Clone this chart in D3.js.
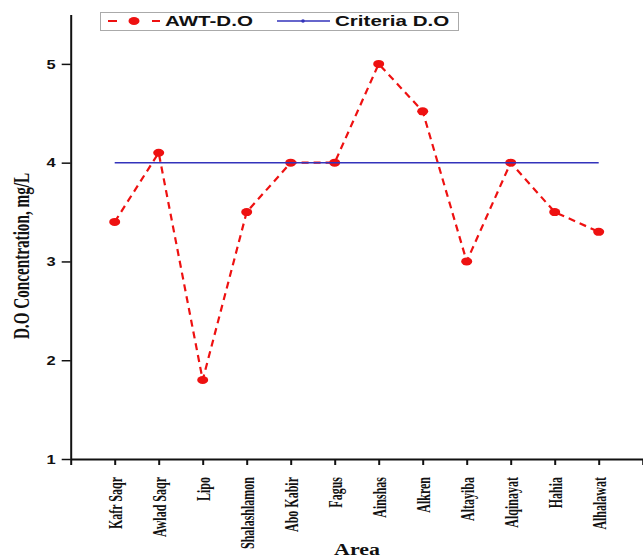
<!DOCTYPE html>
<html><head><meta charset="utf-8">
<script src="https://cdn.jsdelivr.net/npm/d3@7/dist/d3.min.js"></script>
<style>
html,body{margin:0;padding:0;background:#fff;}
svg{display:block;}
</style>
</head><body>
<svg id="c" width="643" height="558"></svg>
<script>
const categories = ["Kafr Saqr","Awlad Saqr","Lipo","Shalashlamon","Abo Kabir","Fagus","Ainshas","Alkren","Altayiba","Alqinayat","Hahia","Alhalawat"];
const awtDO = [3.4, 4.1, 1.8, 3.5, 4.0, 4.0, 5.0, 4.52, 3.0, 4.0, 3.5, 3.3];
const criteriaDO = [4,4,4,4,4,4,4,4,4,4,4,4];
const yTicks = [1,2,3,4,5];
const seriesNames = ["AWT-D.O","Criteria D.O"];
const xLabel = "Area";
const yLabel = "D.O Concentration, mg/L";

const SX = 1.37; // horizontal stretch of the original picture
const svg = d3.select("#c");
const x = d3.scaleLinear().domain([0, 13]).range([70.7, 642.7]);
const y = d3.scaleLinear().domain([1, 5.5]).range([459, 14.5]);

// x axis
const gx = svg.append("g").attr("transform", `translate(0,${y(1)})`)
  .call(d3.axisBottom(x).tickValues(d3.range(0, 14)).tickSize(6).tickSizeOuter(0)
    .tickFormat(i => categories[i - 1] || ""));
gx.select(".domain").attr("stroke", "#111").attr("stroke-width", 2);
gx.selectAll(".tick line").attr("stroke", "#111").attr("stroke-width", 2);
gx.selectAll(".tick text")
  .attr("y", null).attr("dy", null).attr("x", null)
  .attr("text-anchor", "end")
  .attr("dominant-baseline", "central")
  .attr("transform", `translate(0.5,18) rotate(-90) scale(1,1.5)`)
  .attr("font-family", "'Liberation Serif','Times New Roman',serif")
  .attr("font-weight", "bold").attr("font-size", 12).attr("fill", "#111");

// y axis
const gy = svg.append("g").attr("transform", `translate(${x(0)},0)`)
  .call(d3.axisLeft(y).tickValues(yTicks).tickSize(9).tickSizeOuter(0).tickFormat(d3.format("d")));
gy.select(".domain").attr("stroke", "#111").attr("stroke-width", 2);
gy.selectAll(".tick line").attr("stroke", "#111").attr("stroke-width", 1.5);
gy.selectAll(".tick text")
  .attr("x", null).attr("dy", null)
  .attr("text-anchor", "end").attr("dominant-baseline", "central")
  .attr("transform", `translate(-15,0) scale(${SX},1)`)
  .attr("font-family", "'Liberation Sans',Arial,sans-serif")
  .attr("font-weight", "bold").attr("font-size", 12).attr("fill", "#111");

// axis titles
svg.append("text").text(yLabel)
  .attr("text-anchor", "middle").attr("dominant-baseline", "central")
  .attr("transform", `translate(21.5,256) rotate(-90) scale(0.95,1.4)`)
  .attr("font-family", "'Liberation Serif','Times New Roman',serif")
  .attr("font-weight", "bold").attr("font-size", 16).attr("fill", "#111");
svg.append("text").text(xLabel)
  .attr("text-anchor", "middle")
  .attr("transform", `translate(357,555) scale(${SX},1)`)
  .attr("font-family", "'Liberation Serif','Times New Roman',serif")
  .attr("font-weight", "bold").attr("font-size", 16).attr("fill", "#111");

// AWT series
const line = d3.line().x((d, i) => x(i + 1)).y(d => y(d));
svg.append("path").datum(awtDO).attr("d", line)
  .attr("fill", "none").attr("stroke", "#ee1111").attr("stroke-width", 2.2)
  .attr("stroke-dasharray", "7,5");
svg.selectAll(".pt").data(awtDO).join("ellipse").attr("class", "pt")
  .attr("cx", (d, i) => x(i + 1)).attr("cy", d => y(d))
  .attr("rx", 5.5).attr("ry", 4).attr("fill", "#ee1111");

// Criteria series
svg.append("path").datum(criteriaDO).attr("d", line)
  .attr("fill", "none").attr("stroke", "#3333bb").attr("stroke-width", 1.5);

// legend
const lg = svg.append("g");
lg.append("rect").attr("x", 100.5).attr("y", 12.5).attr("width", 358).attr("height", 18)
  .attr("fill", "#fff").attr("stroke", "#aaa").attr("stroke-width", 1);
lg.append("line").attr("x1", 108).attr("x2", 160).attr("y1", 21).attr("y2", 21)
  .attr("stroke", "#ee1111").attr("stroke-width", 2.2).attr("stroke-dasharray", "9,35,8");
lg.append("ellipse").attr("cx", 134).attr("cy", 21).attr("rx", 5.5).attr("ry", 4).attr("fill", "#ee1111");
lg.append("text").text(seriesNames[0])
  .attr("transform", `translate(165,26) scale(${SX},1)`)
  .attr("font-family", "'Liberation Sans',Arial,sans-serif")
  .attr("font-weight", "bold").attr("font-size", 15).attr("fill", "#111");
lg.append("line").attr("x1", 277).attr("x2", 330).attr("y1", 21).attr("y2", 21)
  .attr("stroke", "#3333bb").attr("stroke-width", 1.5);
lg.append("circle").attr("cx", 303).attr("cy", 21).attr("r", 1.8).attr("fill", "#3333bb");
lg.append("text").text(seriesNames[1])
  .attr("transform", `translate(335,26) scale(${SX},1)`)
  .attr("font-family", "'Liberation Sans',Arial,sans-serif")
  .attr("font-weight", "bold").attr("font-size", 15).attr("fill", "#111");
</script>
</body></html>
